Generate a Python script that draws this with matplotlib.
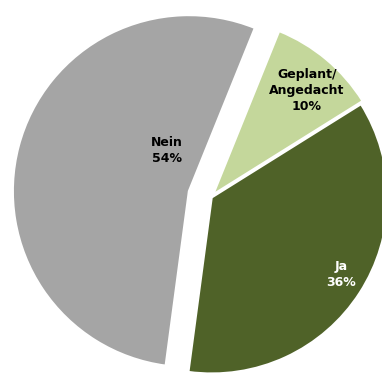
import matplotlib
matplotlib.use("Agg")
import matplotlib.pyplot as plt

categories = ["Nein", "Ja", "Geplant/\nAngedacht"]
shares = [54, 36, 10]
colors = ["#A5A5A5", "#4F6228", "#C4D79B"]
text_colors = ["black", "white", "black"]
explode = [0.13, 0.005, 0.02]
# label spots, in pie radius units from the centre
label_pos = [(-0.25, 0.265), (0.738, -0.44), (0.545, 0.605)]

fig = plt.figure(figsize=(3.82, 3.78), dpi=100)
ax = fig.add_axes([0, 0, 1, 1])

wedges, texts = ax.pie(shares, colors=colors, explode=explode,
                       startangle=68, radius=1.0,
                       labels=["{}\n{}%".format(c, s) for c, s in zip(categories, shares)],
                       wedgeprops=dict(edgecolor="white", linewidth=1.5))

for t, pos, col in zip(texts, label_pos, text_colors):
    t.set_position(pos)
    t.set_ha("center")
    t.set_va("center")
    t.set_color(col)
    t.set_fontweight("bold")
    t.set_fontsize(9)
    t.set_linespacing(1.3)

ax.set_aspect("auto")
ax.set_xlim(-211 / 176, 171 / 176)
ax.set_ylim(-181 / 176, 197 / 176)
ax.axis("off")

plt.savefig("out.png", dpi=100)
